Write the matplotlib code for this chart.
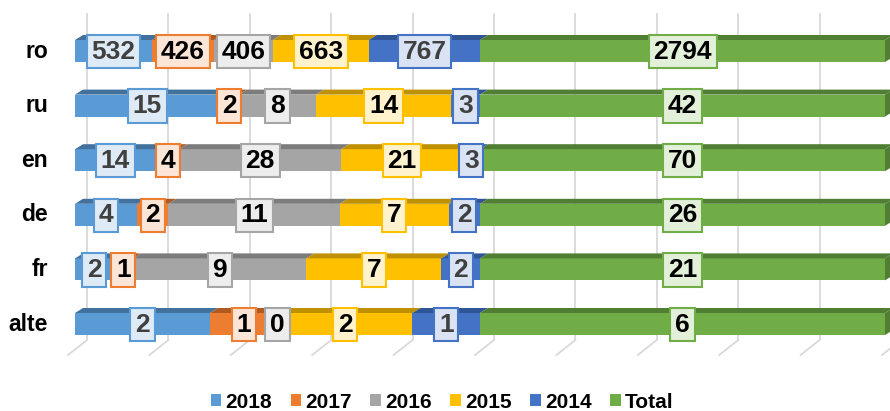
import matplotlib
matplotlib.use("Agg")
import matplotlib.pyplot as plt
import numpy as np
from matplotlib.patches import Patch

categories = ["ro", "ru", "en", "de", "fr", "alte"]
series = ["2018", "2017", "2016", "2015", "2014", "Total"]
v2018 = [532, 15, 14, 4, 2, 2]
v2017 = [426, 2, 4, 2, 1, 1]
v2016 = [406, 8, 28, 11, 9, 0]
v2015 = [663, 14, 21, 7, 7, 2]
v2014 = [767, 3, 3, 2, 2, 1]
vtotal = [2794, 42, 70, 26, 21, 6]

colors = ["#5B9BD5", "#ED7D31", "#A5A5A5", "#FFC000", "#4472C4", "#70AD47"]
tops = ["#41719C", "#AE5A21", "#7C7C7C", "#BF9000", "#2F5597", "#507E32"]
fills = ["#DEEBF7", "#FBE5D6", "#EDEDED", "#FFF2CC", "#DAE3F3", "#E2F0D9"]
txtc = ["#404040", "black", "black", "black", "#404040", "black"]

plt.rcParams['font.family'] = ['Liberation Sans', 'DejaVu Sans']

W, H = 890, 411
fig = plt.figure(figsize=(W / 100, H / 100), dpi=100)
ax = fig.add_axes([0, 0, 1, 1])
xs = 810.0   # px per 100%
ys = 54.6    # px per row
ax.set_xlim(-75 / xs, (W - 75) / xs)
ax.set_ylim(-87 / ys, 5 + 51 / ys)
ax.axis("off")

data = np.array([v2018, v2017, v2016, v2015, v2014, vtotal], dtype=float)
tot = data.sum(axis=0)
frac = data / tot
ypos = np.arange(len(categories))[::-1]  # ro at top

# gridlines on back wall
gx0 = 12 / xs
gstep = 81.4 / xs
gtop = 5 + (51 - 13) / ys
gbot = 5 - (340 - 51) / ys
for k in range(11):
    gx = gx0 + k * gstep
    ax.plot([gx, gx], [gbot, gtop], color="#D9D9D9", lw=1.3, zorder=0, solid_capstyle="butt")
    ax.plot([gx, gx - 19 / xs], [gbot, gbot - 15 / ys], color="#D9D9D9", lw=1.3, zorder=0)

bh = 22 / ys
dx = 8 / xs
dy = 5 / ys

left = np.zeros(len(categories))
handles = []
for i, s in enumerate(series):
    w = frac[i]
    ax.barh(ypos, w, left=left, height=bh, color=colors[i], zorder=2, linewidth=0)
    handles.append(Patch(facecolor=colors[i], label=s))
    for j in range(len(categories)):
        x0, x1 = left[j], left[j] + w[j]
        yt = ypos[j] + bh / 2
        if w[j] > 0:
            ax.fill([x0, x1, x1 + dx, x0 + dx], [yt, yt, yt + dy, yt + dy],
                    color=tops[i], zorder=2, lw=0)
        if i == len(series) - 1:
            yb = ypos[j] - bh / 2
            ax.fill([x1, x1 + dx, x1 + dx, x1], [yb, yb + dy, yt + dy, yt],
                    color=tops[i], zorder=2, lw=0)
    left = left + w

# labels
left = np.zeros(len(categories))
for i, s in enumerate(series):
    w = frac[i]
    for j in range(len(categories)):
        xc = left[j] + w[j] / 2
        ax.text(xc, ypos[j] - 0.01, f"{int(data[i, j])}", ha="center", va="center",
                fontsize=19, fontweight="bold", color=txtc[i], zorder=5,
                bbox=dict(boxstyle="square,pad=0.18", facecolor=fills[i],
                          edgecolor=colors[i], linewidth=1.5))
    left = left + w

for j, c in enumerate(categories):
    ax.text(-27 / xs, ypos[j], c, ha="right", va="center", fontsize=16.5,
            fontweight="bold", color="black")

fig.legend(handles=handles, loc="center", bbox_to_anchor=(442 / W, 1 - 402 / H),
           ncol=6, frameon=False, prop=dict(size=15, weight="bold"),
           handlelength=0.5, handleheight=0.5, handletextpad=0.2, columnspacing=0.9)

fig.savefig("out.png", dpi=100)
